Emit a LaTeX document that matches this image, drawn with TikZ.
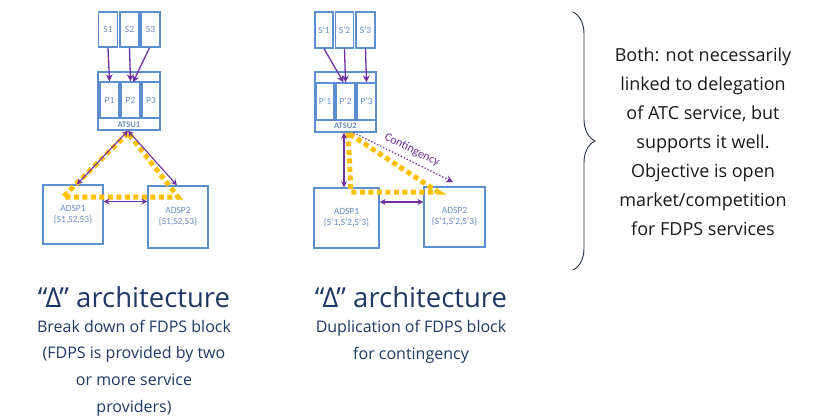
\documentclass[tikz,border=0pt]{standalone}
\usepackage{fontspec}
\setmainfont{Open Sans}
\newfontfamily\boxfont{Carlito}
\usetikzlibrary{arrows.meta,decorations.pathreplacing}
\definecolor{boxblue}{RGB}{91,143,208}
\definecolor{boxtext}{RGB}{105,140,195}
\definecolor{arrowpurple}{RGB}{112,48,160}
\definecolor{dotyellow}{RGB}{255,192,0}
\definecolor{navy}{RGB}{31,56,100}
\definecolor{bracecol}{RGB}{40,50,70}
\definecolor{bodytext}{RGB}{25,25,25}
\begin{document}
\begin{tikzpicture}[x=1pt,y=-1pt,
  blk/.style={draw=boxblue, line width=1.3pt, inner sep=0pt, font=\boxfont\fontsize{9.5}{11}\selectfont, text=boxtext, align=center},
  atsulbl/.style={inner sep=0pt, font=\boxfont\bfseries\fontsize{8.5}{9}\selectfont, text=boxtext},
  parrow/.style={draw=arrowpurple, line width=1.3pt, -{Stealth[length=7pt,width=7pt]}},
  pboth/.style={draw=arrowpurple, line width=1.1pt, {Stealth[length=6pt,width=6pt]}-{Stealth[length=6pt,width=6pt]}},
  pdot/.style={draw=arrowpurple, line width=1.3pt, dotted, -{Stealth[length=7pt,width=7pt]}},
  ydots/.style={draw=dotyellow, line width=5pt, dash pattern=on 5pt off 3.5pt},
  titletext/.style={text=navy, font=\fontsize{27.5}{32}\selectfont, inner sep=0pt},
  subtext/.style={text=navy, font=\fontsize{16}{26.7}\selectfont, align=center, inner sep=0pt},
  bodystyle/.style={text=bodytext, font=\fontsize{18}{29}\selectfont, align=center, inner sep=0pt}
]
\useasboundingbox (0,0) rectangle (815,418);

% ---------------- left diagram ----------------
\node[blk, minimum width=19pt, minimum height=35pt] (S1) at (108,29.5) {S1};
\node[blk, minimum width=19pt, minimum height=35pt] (S2) at (129.5,29.5) {S2};
\node[blk, minimum width=19pt, minimum height=35pt] (S3) at (150.5,29.5) {S3};
\node[blk, minimum width=62pt, minimum height=58pt] (ATSU1) at (129,101) {};
\node[blk, minimum width=19pt, minimum height=36pt] (P1) at (109.5,100) {P1};
\node[blk, minimum width=19pt, minimum height=36pt] (P2) at (130.5,100) {P2};
\node[blk, minimum width=18pt, minimum height=36pt] (P3) at (151,100) {P3};
\node[atsulbl] (A1lbl) at (129,124.5) {ATSU1};
\node[blk, minimum width=60pt, minimum height=59pt] (ADSP1) at (73,214.5) {ADSP1\\\{S1,S2,S3\}};
\node[blk, minimum width=60pt, minimum height=62pt] (ADSP2) at (178,217) {ADSP2\\\{S1,S2,S3\}};

\coordinate (LYa) at (128,133);
\coordinate (LYb) at (63,197);
\coordinate (LYc) at (178,197);
\draw[ydots] (LYa) -- (LYb) -- (LYc) -- cycle;

\draw[parrow] (S1.south) -- (P1.north);
\draw[parrow] (S2.south) -- (P2.north);
\draw[parrow] ([xshift=-1pt]S3.south) -- ([xshift=2.5pt,yshift=-1pt]P2.north);
\draw[pboth] ([xshift=-1pt]ATSU1.south) -- ([xshift=4pt]ADSP1.north);
\draw[pboth] ([xshift=-1pt]ATSU1.south) -- ([xshift=-1pt]ADSP2.north);
\draw[pboth] ([yshift=13pt]ADSP1.east) -- ([yshift=13pt]ADSP1.east -| ADSP2.west);

% ---------------- right diagram ----------------
\node[blk, minimum width=18pt, minimum height=36pt] (T1) at (324,30) {S’1};
\node[blk, minimum width=18pt, minimum height=36pt] (T2) at (344.5,30) {S’2};
\node[blk, minimum width=19pt, minimum height=36pt] (T3) at (365.5,30) {S’3};
\node[blk, minimum width=61pt, minimum height=60pt] (ATSU2) at (345.5,102) {};
\node[blk, minimum width=18pt, minimum height=37pt] (Q1) at (325,101.5) {P’1};
\node[blk, minimum width=19pt, minimum height=37pt] (Q2) at (345.5,101.5) {P’2};
\node[blk, minimum width=19pt, minimum height=37pt] (Q3) at (366.5,101.5) {P’3};
\node[atsulbl] (A2lbl) at (345.5,126) {ATSU2};
\node[blk, minimum width=65pt, minimum height=60pt] (ADSP1b) at (346.5,218) {ADSP1\\\{S’1,S’2,S’3\}};
\node[blk, minimum width=61pt, minimum height=60pt] (ADSP2b) at (454.5,217) {ADSP2\\\{S’1,S’2,S’3\}};

\coordinate (RYa) at (348,133);
\coordinate (RYb) at (351,192);
\coordinate (RYc) at (438,192);
\draw[ydots] (RYa) -- (RYb) -- (RYc) -- cycle;

\draw[parrow] (T1.south) -- ([xshift=-2pt]Q2.north);
\draw[parrow] (T2.south) -- (Q2.north);
\draw[parrow] (T3.south) -- (Q3.north);
\draw[pboth] ([xshift=-1.5pt]ATSU2.south) -- ([xshift=-1.5pt]ATSU2.south |- ADSP1b.north);
\draw[pboth] ([yshift=16pt]ADSP1b.east) -- ([yshift=16pt]ADSP1b.east -| ADSP2b.west);
\coordinate (Cend) at (453,182);
\draw[pdot] ([xshift=8pt]ATSU2.south) -- (Cend);
\node[text=arrowpurple, font=\boxfont\fontsize{12}{13}\selectfont, inner sep=0pt, rotate=-27] (clbl) at (412,150) {Contingency};

% ---------------- brace and text ----------------
\coordinate (Btop) at (573,12);
\coordinate (Bbot) at (573,270);
\draw[bracecol, line width=0.9pt, decorate, decoration={brace, amplitude=22pt}] (Btop) -- (Bbot);
\node[bodystyle] (note) at (703,142) {Both: not necessarily\\linked to delegation\\of ATC service, but\\supports it well.\\Objective is open\\market/competition\\for FDPS services};

% ---------------- captions ----------------
\node[titletext] (t1) at (134,297) {“Δ” architecture};
\node[subtext] (s1) at (134,368) {Break down of FDPS block\\(FDPS is provided by two\\or more service\\providers)};
\node[titletext] (t2) at (411,297) {“Δ” architecture};
\node[subtext] (s2) at (411,341.5) {Duplication of FDPS block\\for contingency};
\end{tikzpicture}
\end{document}
